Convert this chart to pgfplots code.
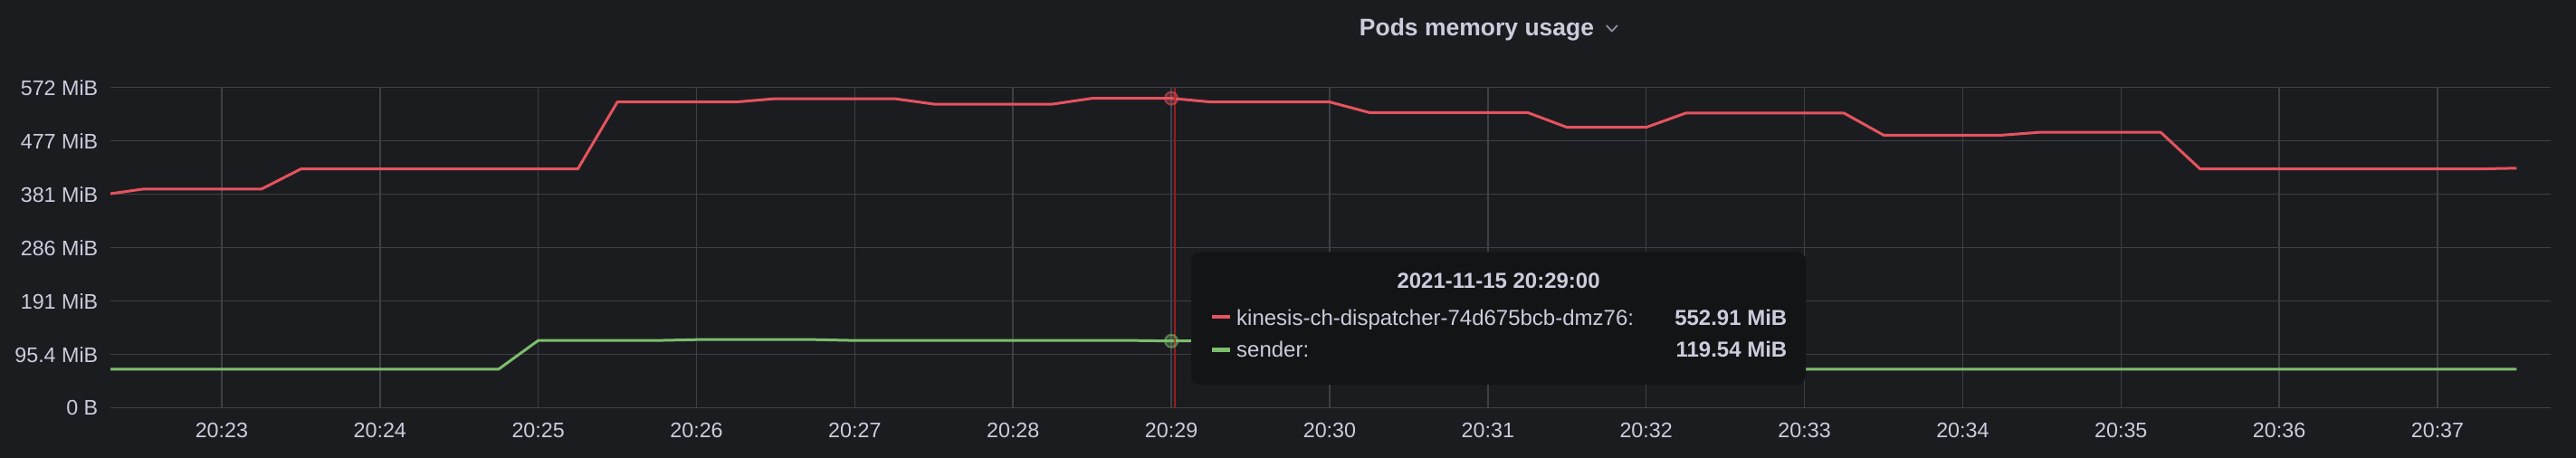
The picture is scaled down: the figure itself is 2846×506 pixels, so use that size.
\documentclass[border=0pt]{standalone}
\usepackage{fontspec}
\setmainfont{Liberation Sans}
\usepackage{pgfplots}
\pgfplotsset{compat=1.18}
\definecolor{bg}{HTML}{1B1C20}
\definecolor{gridc}{HTML}{3F4045}
\definecolor{txt}{HTML}{CCCCDC}
\definecolor{sred}{HTML}{E5535F}
\definecolor{sgreen}{HTML}{7DBE6C}
\definecolor{tipbg}{HTML}{131416}
\definecolor{cross}{HTML}{9A1D1D}
\definecolor{chev}{HTML}{8E8E9E}
\begin{document}
\begin{tikzpicture}[x=1pt,y=1pt]
\fill[bg] (0,0) rectangle (2846,506);
\begin{axis}[
  at={(122pt,55.3pt)}, anchor=south west,
  scale only axis, width=2696pt, height=354pt,
  xmin=22.297, xmax=37.715, ymin=0, ymax=572.2,
  axis line style={draw=none},
  major tick length=0pt,
  grid=major, major grid style={gridc, line width=1.5pt},
  xtick={23,24,25,26,27,28,29,30,31,32,33,34,35,36,37},
  xticklabels={20:23,20:24,20:25,20:26,20:27,20:28,20:29,20:30,20:31,20:32,20:33,20:34,20:35,20:36,20:37},
  ytick={0,95.367,190.73,286.10,381.47,476.84,572.2},
  yticklabels={0 B,95.4 MiB,191 MiB,286 MiB,381 MiB,477 MiB,572 MiB},
  tick label style={font=\fontsize{23.3}{28}\selectfont, text=txt, inner sep=0pt},
  xticklabel style={anchor=north, yshift=-16pt},
  yticklabel style={anchor=east, xshift=-13.5pt},
]
\addplot[sred, line width=3pt, line join=round, mark=none] coordinates {
(22.25,380.7) (22.5,390.7) (23.25,390.7) (23.5,426.7) (25.25,426.7) (25.5,546.4)
(26.25,546.4) (26.5,552.3) (27.25,552.3) (27.5,542.6) (28.25,542.6) (28.5,552.9)
(29.0,552.91) (29.25,546.4) (30.0,546.4) (30.25,527.6) (31.25,527.6) (31.5,501.1)
(32.0,501.1) (32.25,526.5) (33.25,526.5) (33.5,487.2) (34.25,487.2) (34.5,492.5)
(35.25,492.5) (35.5,426.7) (37.25,426.7) (37.5,428.2)
};
\addplot[sgreen, line width=3pt, line join=round, mark=none] coordinates {
(22.25,69.3) (24.75,69.3) (25.0,120.5) (25.75,120.5) (26.0,122.0) (26.75,122.0)
(27.0,120.5) (28.75,120.5) (29.0,119.54) (31.0,119.54) (31.25,69.3) (37.5,69.3)
};
\addplot[cross, line width=2.2pt, mark=none] coordinates {(29.02,0) (29.02,572.2)};
\addplot[only marks, mark=*, mark size=7pt, mark options={fill=sred, fill opacity=0.3, draw=sred, draw opacity=0.55, line width=2pt}] coordinates {(29.0,552.91)};
\addplot[only marks, mark=*, mark size=7pt, mark options={fill=sgreen, fill opacity=0.3, draw=sgreen, draw opacity=0.55, line width=2pt}] coordinates {(29.0,119.54)};
\end{axis}
% panel title
\node[anchor=base, inner sep=0pt, font=\fontsize{26.5}{30}\selectfont\bfseries, text=txt] at (1631.5,466) {Pods memory usage};
\draw[chev, line width=1.8pt, line cap=round, line join=round] (1775,477.7) -- (1780.8,471.5) -- (1786.6,477.7);
% tooltip
\fill[tipbg, rounded corners=10pt] (1316,81) rectangle (1995,227.7);
\node[anchor=base, inner sep=0pt, font=\fontsize{24}{28}\selectfont\bfseries, text=txt] at (1655.6,187.7) {2021-11-15 20:29:00};
\draw[sred, line width=4.5pt] (1339,156) -- (1358.7,156);
\draw[sgreen, line width=4.5pt] (1339,119.3) -- (1358.7,119.3);
\node[anchor=base west, inner sep=0pt, font=\fontsize{24}{28}\selectfont, text=txt] at (1366,146) {kinesis-ch-dispatcher-74d675bcb-dmz76:};
\node[anchor=base east, inner sep=0pt, font=\fontsize{24}{28}\selectfont\bfseries, text=txt] at (1974.5,146) {552.91 MiB};
\node[anchor=base west, inner sep=0pt, font=\fontsize{24}{28}\selectfont, text=txt] at (1366,111) {sender:};
\node[anchor=base east, inner sep=0pt, font=\fontsize{24}{28}\selectfont\bfseries, text=txt] at (1974.5,111) {119.54 MiB};
\pgfresetboundingbox
\path (0,0) rectangle (2846,506);
\end{tikzpicture}
\end{document}
